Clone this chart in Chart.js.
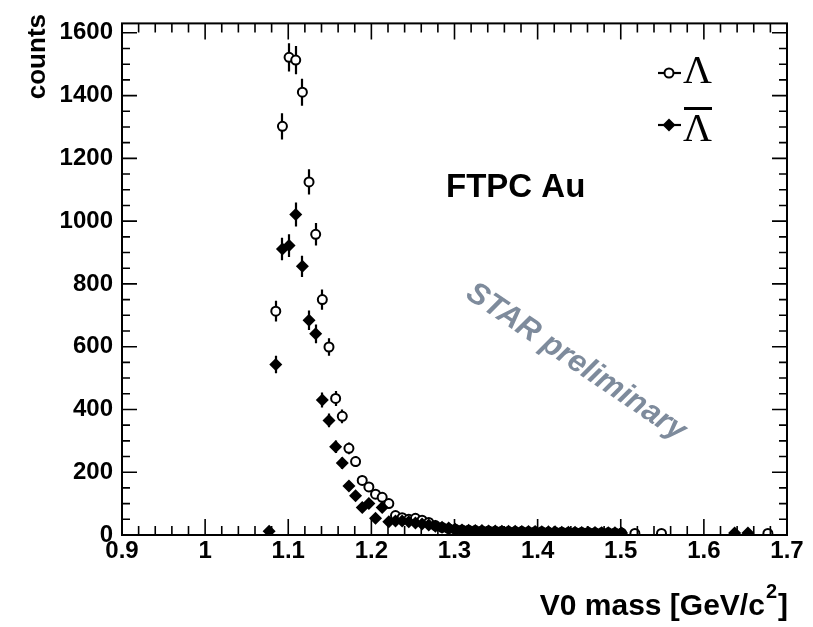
<!DOCTYPE html>
<html>
<head>
<meta charset="utf-8">
<script src="https://cdn.jsdelivr.net/npm/chart.js@4/dist/chart.umd.min.js"></script>
<style>
html,body{margin:0;padding:0;background:#fff;}
#wrap{width:813px;height:627px;position:relative;}
</style>
</head>
<body>
<div id="wrap"><canvas id="c"></canvas></div>
<script>
// ---- data ----
const lambdaMass = [1.085,1.093,1.101,1.109,1.117,1.125,1.133,1.141,1.149,1.157,1.165,1.173,1.181,1.189,1.197,1.205,1.213,1.221,1.229,1.237,1.245,1.253,1.261,1.269,1.277,1.285,1.293,1.301,1.309,1.317,1.325,1.333,1.341,1.349,1.357,1.365,1.373,1.381,1.389,1.397,1.405,1.413,1.421,1.429,1.437,1.445,1.453,1.461,1.469,1.477,1.485,1.493,1.501,1.517,1.549,1.677];
const lambdaCounts = [713,1302,1522,1513,1411,1125,958,750,599,435,378,276,234,174,153,130,120,100,62,55,50,53,47,40,30,24,20,18,16,15,14,13,13,12,12,11,11,11,10,10,10,9,9,9,8,8,8,8,7,7,7,6,6,5,5,5];
const lambdaErr = [33,42,45,45,43,40,36,32,28,24,22,19,17,15,14,13,12,11,9,8,8,8,8,7,6,5,5,5,4,4,4,4,4,4,4,4,4,4,4,4,4,3,3,3,3,3,3,3,3,3,3,3,3,3,3,3];

const antiMass = [1.077,1.085,1.093,1.101,1.109,1.117,1.125,1.133,1.141,1.149,1.157,1.165,1.173,1.181,1.189,1.197,1.205,1.213,1.221,1.229,1.237,1.245,1.253,1.261,1.269,1.277,1.285,1.293,1.301,1.309,1.317,1.325,1.333,1.341,1.349,1.357,1.365,1.373,1.381,1.389,1.397,1.405,1.413,1.421,1.429,1.437,1.445,1.453,1.461,1.469,1.477,1.485,1.493,1.501,1.637,1.653];
const antiCounts = [12,543,911,922,1021,856,684,641,430,365,281,229,156,125,88,100,53,88,42,45,45,42,38,35,32,28,25,22,18,16,15,14,14,13,13,12,12,12,11,11,11,10,10,10,9,9,9,8,8,8,7,7,7,6,6,6];
const antiErr = [4,28,36,36,38,34,31,30,24,22,20,18,15,13,11,12,9,11,8,8,8,8,7,7,6,6,5,5,5,4,4,4,4,4,4,4,4,4,4,4,4,4,4,4,3,3,3,3,3,3,3,3,3,3,3,3];

const xTicks = [0.9,1.0,1.1,1.2,1.3,1.4,1.5,1.6,1.7];
const yTicks = [0,200,400,600,800,1000,1200,1400,1600];
const xRange = [0.9, 1.7];
const yRange = [0, 1630];

const FONT = '"Liberation Sans", Arial, Helvetica, sans-serif';

function pts(xs, ys){ return xs.map((x,i)=>({x:x, y:ys[i]})); }

const errors = [lambdaErr, antiErr];

const rootPlugin = {
  id: 'rootStyle',
  beforeDatasetsDraw(chart){
    const ctx = chart.ctx, xs = chart.scales.x, ys = chart.scales.y, a = chart.chartArea;
    ctx.save();
    ctx.beginPath(); ctx.rect(a.left, a.top, a.right-a.left, a.bottom-a.top); ctx.clip();
    ctx.strokeStyle = '#000'; ctx.lineWidth = 2.2;
    chart.data.datasets.forEach((ds, di) => {
      ds.data.forEach((p, i) => {
        const e = errors[di][i];
        const px = Math.round(xs.getPixelForValue(p.x));
        ctx.beginPath();
        ctx.moveTo(px, ys.getPixelForValue(p.y - e));
        ctx.lineTo(px, ys.getPixelForValue(p.y + e));
        ctx.stroke();
      });
    });
    ctx.restore();
  },
  afterDraw(chart){
    const ctx = chart.ctx, xs = chart.scales.x, ys = chart.scales.y, a = chart.chartArea;
    ctx.save();
    // frame
    ctx.strokeStyle = '#000'; ctx.lineWidth = 2;
    ctx.strokeRect(a.left, a.top, a.right-a.left, a.bottom-a.top);
    // ticks
    ctx.lineWidth = 1.6;
    ctx.beginPath();
    for (let k = 0; k <= 40; k++) {
      const v = xRange[0] + k*0.02;
      const px = xs.getPixelForValue(v);
      const len = (k % 5 === 0) ? 16 : 9;
      ctx.moveTo(px, a.bottom); ctx.lineTo(px, a.bottom - len);
      ctx.moveTo(px, a.top); ctx.lineTo(px, a.top + len);
    }
    for (let k = 0; k * 50 <= yRange[1]; k++) {
      const v = k*50;
      const py = ys.getPixelForValue(v);
      const len = (k % 4 === 0) ? 15 : 8;
      ctx.moveTo(a.left, py); ctx.lineTo(a.left + len, py);
      ctx.moveTo(a.right, py); ctx.lineTo(a.right - len, py);
    }
    ctx.stroke();

    // axis titles
    ctx.fillStyle = '#000';
    ctx.font = 'bold 26px ' + FONT;
    ctx.save();
    ctx.translate(45, 14);
    ctx.rotate(-Math.PI/2);
    ctx.textAlign = 'right'; ctx.textBaseline = 'alphabetic';
    ctx.fillText('counts', 0, 0);
    ctx.restore();

    // x title with superscript
    const base = 615;
    ctx.textBaseline = 'alphabetic';
    const t1 = 'V0 mass [GeV/c', t3 = ']';
    ctx.font = 'bold 20px ' + FONT;
    const w2 = ctx.measureText('2').width;
    ctx.font = 'bold 30px ' + FONT;
    const w1 = ctx.measureText(t1).width, w3 = ctx.measureText(t3).width;
    const xr = 788;
    const x0 = xr - w3 - w2 - 2 - w1;
    ctx.textAlign = 'left';
    ctx.fillText(t1, x0, base);
    ctx.font = 'bold 20px ' + FONT;
    ctx.fillText('2', x0 + w1 + 1, base - 17);
    ctx.font = 'bold 30px ' + FONT;
    ctx.fillText(t3, x0 + w1 + w2 + 2, base);

    // FTPC Au
    ctx.font = 'bold 33px ' + FONT;
    ctx.textAlign = 'left';
    ctx.fillText('FTPC Au', 446, 197);

    // STAR preliminary
    ctx.save();
    ctx.translate(576, 362);
    ctx.rotate(34 * Math.PI/180);
    ctx.fillStyle = '#7e8b9c';
    ctx.font = 'italic bold 31px ' + FONT;
    ctx.textAlign = 'center'; ctx.textBaseline = 'middle';
    ctx.fillText('STAR preliminary', 0, 0);
    ctx.restore();

    // legend
    const rows = [{y:73, filled:false}, {y:125, filled:true}];
    rows.forEach(r => {
      ctx.strokeStyle = '#000'; ctx.lineWidth = 2.2;
      ctx.beginPath(); ctx.moveTo(658, r.y); ctx.lineTo(681, r.y); ctx.stroke();
      if (r.filled) {
        ctx.fillStyle = '#000';
        ctx.beginPath();
        ctx.moveTo(669, r.y-6.5); ctx.lineTo(675.5, r.y); ctx.lineTo(669, r.y+6.5); ctx.lineTo(662.5, r.y);
        ctx.closePath(); ctx.fill();
      } else {
        ctx.fillStyle = '#fff'; ctx.lineWidth = 2;
        ctx.beginPath(); ctx.arc(669, r.y, 4.5, 0, Math.PI*2); ctx.fill(); ctx.stroke();
      }
    });
    ctx.fillStyle = '#000';
    ctx.font = '40px "Liberation Serif", "DejaVu Serif", serif';
    ctx.textAlign = 'left'; ctx.textBaseline = 'alphabetic';
    ctx.fillText('\u039B', 683, 83);
    ctx.fillText('\u039B', 683, 141);
    ctx.fillRect(684, 107, 28, 3);
    ctx.restore();
  }
};

new Chart(document.getElementById('c'), {
  type: 'scatter',
  data: {
    datasets: [
      { label: '\u039B', order: 1, data: pts(lambdaMass, lambdaCounts), pointStyle: 'circle', pointRadius: 4.5, pointBorderWidth: 2,
        pointBackgroundColor: '#fff', pointBorderColor: '#000', showLine: false },
      { label: 'anti-\u039B', order: 0, data: pts(antiMass, antiCounts), pointStyle: 'rectRot', pointRadius: 6.5, pointBorderWidth: 0,
        pointBackgroundColor: '#000', pointBorderColor: '#000', showLine: false }
    ]
  },
  options: {
    responsive: true, maintainAspectRatio: false, animation: false,
    layout: { padding: { left: 0, right: 26, top: 14, bottom: 0 } },
    plugins: { legend: { display: false }, tooltip: { enabled: false } },
    scales: {
      x: {
        type: 'linear', min: xRange[0], max: xRange[1],
        grid: { display: false, drawTicks: false }, border: { display: false },
        afterBuildTicks: s => { s.ticks = xTicks.map(v => ({ value: v })); },
        afterFit: s => { s.height = 92; },
        ticks: { color: '#000', padding: 2, maxRotation: 0, autoSkip: false,
          font: { family: FONT, size: 24, weight: 'bold' },
          callback: v => String(Math.round(v*10)/10) }
      },
      y: {
        type: 'linear', min: yRange[0], max: yRange[1],
        grid: { display: false, drawTicks: false }, border: { display: false },
        afterBuildTicks: s => { s.ticks = yTicks.map(v => ({ value: v })); },
        afterFit: s => { s.width = 122; },
        ticks: { color: '#000', padding: 9, autoSkip: false,
          font: { family: FONT, size: 24, weight: 'bold' },
          callback: v => String(v) }
      }
    }
  },
  plugins: [rootPlugin]
});
</script>
</body>
</html>
